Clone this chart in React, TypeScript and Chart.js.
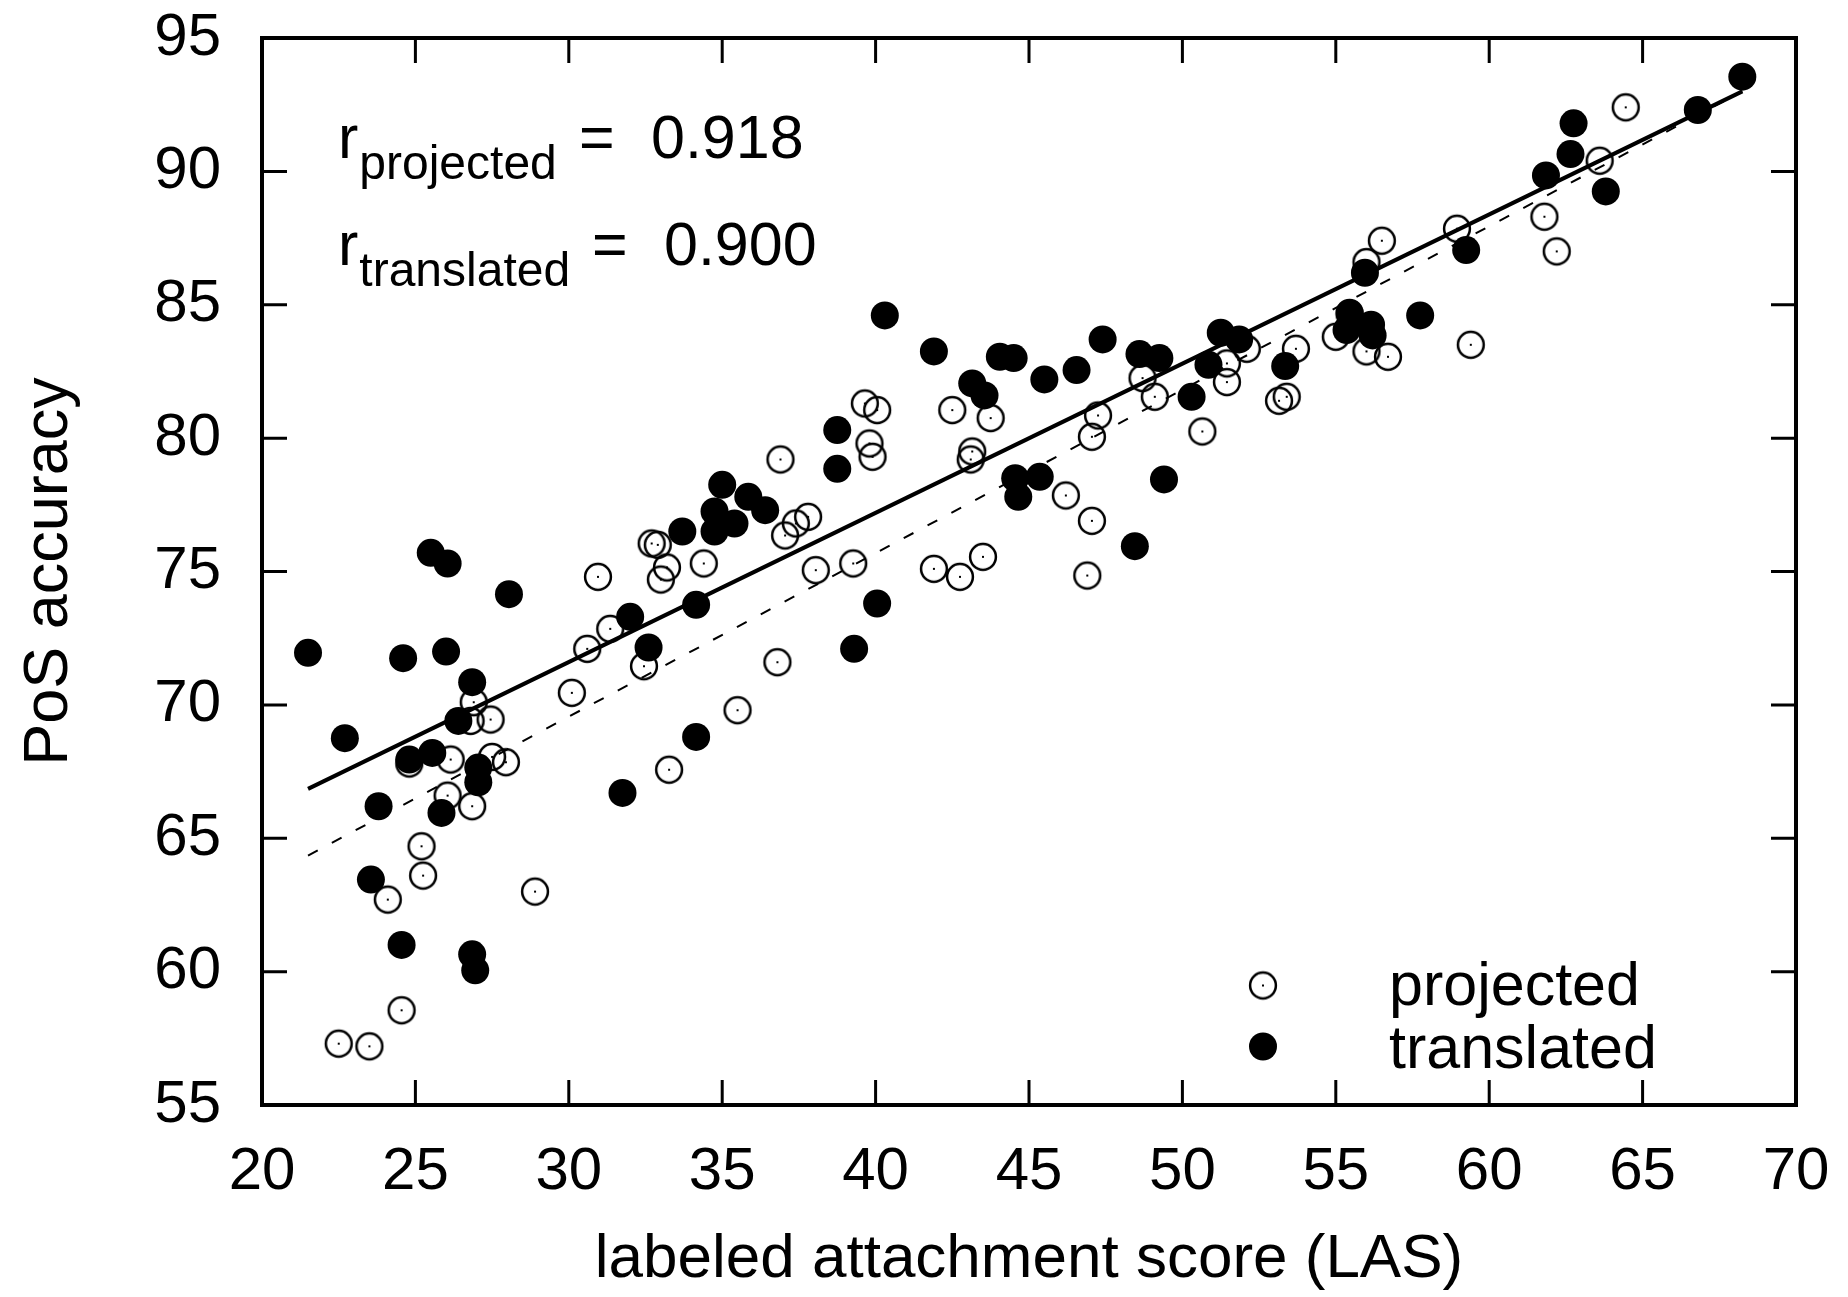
import React, { useEffect, useRef } from "react";
import { Chart, registerables } from "chart.js";
Chart.register(...registerables);

// ---- data ----
const projectedLAS = [22.5, 23.5, 24.1, 24.55, 24.8, 25.2, 25.25, 26.05, 26.15, 26.8, 26.9, 26.85, 27.45, 27.5, 27.95, 28.9, 30.1, 30.6, 30.95, 31.35, 32.45, 32.7, 32.9, 33.0, 33.2, 33.27, 34.4, 35.5, 36.9, 36.8, 37.05, 37.4, 37.8, 38.05, 39.27, 39.65, 39.8, 39.9, 40.05, 41.9, 42.5, 42.75, 43.15, 43.1, 43.5, 43.75, 46.2, 47.05, 46.9, 47.05, 47.25, 48.7, 49.1, 50.65, 51.45, 51.45, 52.1, 53.15, 53.4, 53.7, 55.0, 55.45, 56.0, 56.0, 56.5, 56.7, 58.95, 59.4, 61.8, 62.2, 63.6, 64.45];
const projectedPoS = [57.3, 57.2, 62.7, 58.55, 67.8, 64.7, 63.6, 66.6, 67.95, 69.4, 70.1, 66.2, 69.45, 68.05, 67.85, 63.0, 70.45, 72.1, 74.8, 72.85, 71.45, 76.05, 76.0, 74.7, 75.15, 67.57, 75.3, 69.8, 79.2, 71.6, 76.35, 76.8, 77.05, 75.05, 75.3, 81.3, 79.8, 79.3, 81.05, 75.1, 81.05, 74.8, 79.5, 79.2, 75.55, 80.75, 77.85, 76.9, 74.85, 80.05, 80.85, 82.25, 81.55, 80.25, 82.1, 82.8, 83.35, 81.4, 81.55, 83.35, 83.8, 84.65, 83.25, 86.6, 87.4, 83.05, 87.85, 83.5, 88.3, 87.0, 90.4, 92.4];

const translatedLAS = [21.5, 22.7, 23.55, 23.8, 24.55, 24.6, 24.8, 25.55, 25.5, 26.05, 26.0, 25.85, 26.4, 26.85, 27.05, 27.05, 26.85, 26.95, 28.05, 31.75, 32.0, 32.6, 33.7, 34.15, 34.15, 34.75, 34.75, 35.0, 35.4, 35.85, 36.4, 38.75, 38.75, 39.3, 40.05, 40.3, 41.9, 43.15, 43.55, 44.05, 44.5, 44.55, 44.65, 45.35, 45.5, 46.55, 47.4, 48.45, 48.6, 49.25, 49.4, 50.3, 50.85, 51.25, 51.85, 53.35, 55.35, 55.45, 56.15, 56.2, 55.95, 57.75, 59.25, 61.85, 62.65, 62.75, 63.8, 66.8, 68.25];
const translatedPoS = [71.95, 68.75, 63.45, 66.2, 61.0, 71.75, 67.95, 68.2, 75.7, 75.3, 72.0, 65.95, 69.4, 70.85, 67.65, 67.1, 60.65, 60.05, 74.15, 66.7, 73.3, 72.15, 76.5, 73.75, 68.8, 77.25, 76.5, 78.25, 76.8, 77.8, 77.3, 80.3, 78.85, 72.1, 73.8, 84.6, 83.25, 82.05, 81.6, 83.05, 83.0, 78.5, 77.8, 78.55, 82.2, 82.55, 83.7, 75.95, 83.15, 83.0, 78.45, 81.55, 82.75, 83.95, 83.7, 82.7, 84.05, 84.7, 84.25, 83.85, 86.2, 84.6, 87.05, 89.85, 90.65, 91.8, 89.25, 92.3, 93.55];

// regression line end points
const fitLAS = [21.5, 68.25];
const fitTranslatedPoS = [66.85, 93.0];
const fitProjectedPoS = [64.35, 93.0];

// axes
const xTicks = [20, 25, 30, 35, 40, 45, 50, 55, 60, 65, 70];
const yTicks = [55, 60, 65, 70, 75, 80, 85, 90, 95];

const xTitle = "labeled attachment score (LAS)";
const yTitle = "PoS accuracy";
const seriesNames = ["projected", "translated"];
const corrValues = ["0.918", "0.900"];

const FONT = '"Liberation Sans", Arial, Helvetica, sans-serif';

let openMarkerCanvas: HTMLCanvasElement | null = null;
function getOpenMarker(): HTMLCanvasElement {
  if (openMarkerCanvas) return openMarkerCanvas;
  const c = document.createElement("canvas");
  c.width = 32;
  c.height = 32;
  const g = c.getContext("2d")!;
  g.strokeStyle = "#000";
  g.lineWidth = 2.5;
  g.beginPath();
  g.arc(16, 16, 12.9, 0, Math.PI * 2);
  g.stroke();
  g.fillStyle = "#000";
  g.fillRect(15, 15, 2, 2);
  openMarkerCanvas = c;
  return c;
}

const decorPlugin = {
  id: "decor",
  afterDraw(chart: any) {
    const { ctx, chartArea } = chart;
    const { left, right, top, bottom } = chartArea;
    const xs = chart.scales.x;
    const ys = chart.scales.y;
    ctx.save();
    ctx.strokeStyle = "#000";
    ctx.lineCap = "butt";
    // inward ticks
    ctx.lineWidth = 3;
    const TL = 25;
    xTicks.forEach((v) => {
      const px = xs.getPixelForValue(v);
      if (px <= left + 2 || px >= right - 2) return;
      ctx.beginPath();
      ctx.moveTo(px, bottom);
      ctx.lineTo(px, bottom - TL);
      ctx.moveTo(px, top);
      ctx.lineTo(px, top + TL);
      ctx.stroke();
    });
    yTicks.forEach((v) => {
      const py = ys.getPixelForValue(v);
      if (py <= top + 2 || py >= bottom - 2) return;
      ctx.beginPath();
      ctx.moveTo(left, py);
      ctx.lineTo(left + TL, py);
      ctx.moveTo(right, py);
      ctx.lineTo(right - TL, py);
      ctx.stroke();
    });
    // frame
    ctx.lineWidth = 4;
    ctx.strokeRect(left, top, right - left, bottom - top);

    // correlation annotation
    ctx.fillStyle = "#000";
    ctx.textBaseline = "alphabetic";
    ctx.textAlign = "left";
    const ax = left + 76;
    const lines = [
      { sub: seriesNames[0], val: corrValues[0], base: top + 120, eq: left + 317, num: left + 389 },
      { sub: seriesNames[1], val: corrValues[1], base: top + 227, eq: left + 330, num: left + 402 },
    ];
    lines.forEach((l) => {
      ctx.font = `61px ${FONT}`;
      ctx.fillText("r", ax, l.base);
      const rw = ctx.measureText("r").width;
      ctx.font = `48px ${FONT}`;
      ctx.fillText(l.sub, ax + rw + 1, l.base + 21);
      ctx.font = `61px ${FONT}`;
      ctx.fillText("=", l.eq, l.base);
      ctx.fillText(l.val, l.num, l.base);
    });

    // legend
    const open = getOpenMarker();
    const mx = right - 533;
    const my1 = bottom - 119.5;
    const my2 = bottom - 58.5;
    ctx.drawImage(open, mx - 16, my1 - 16);
    ctx.beginPath();
    ctx.arc(mx, my2, 14, 0, Math.PI * 2);
    ctx.fill();
    ctx.font = `61px ${FONT}`;
    ctx.fillText(seriesNames[0], right - 407, bottom - 100.5);
    ctx.fillText(seriesNames[1], right - 407, bottom - 37.5);
    ctx.restore();
  },
};

export default function App() {
  const ref = useRef<HTMLCanvasElement | null>(null);
  useEffect(() => {
    if (!ref.current) return;
    const openMarker = getOpenMarker();
    const proj = projectedLAS.map((x, i) => ({ x, y: projectedPoS[i] }));
    const trans = translatedLAS.map((x, i) => ({ x, y: translatedPoS[i] }));
    const fitT = fitLAS.map((x, i) => ({ x, y: fitTranslatedPoS[i] }));
    const fitP = fitLAS.map((x, i) => ({ x, y: fitProjectedPoS[i] }));
    const chart: any = new Chart(ref.current, {
      type: "scatter",
      data: {
        datasets: [
          {
            label: "fit translated",
            data: fitT,
            showLine: true,
            borderColor: "#000",
            borderWidth: 4,
            pointRadius: 0,
            order: 0,
          },
          {
            label: "fit projected",
            data: fitP,
            showLine: true,
            borderColor: "#000",
            borderWidth: 2,
            borderDash: [11, 16],
            pointRadius: 0,
            order: 0,
          },
          {
            label: seriesNames[1],
            data: trans,
            pointStyle: "circle",
            pointRadius: 14,
            backgroundColor: "#000",
            borderWidth: 0,
            order: 1,
          },
          {
            label: seriesNames[0],
            data: proj,
            pointStyle: openMarker as any,
            pointRadius: 14,
            order: 2,
          },
        ],
      },
      options: {
        responsive: false,
        animation: false,
        devicePixelRatio: 1,
        events: [],
        layout: { padding: { left: 0, right: 52, top: 38, bottom: 0 } },
        plugins: { legend: { display: false }, tooltip: { enabled: false } },
        scales: {
          x: {
            type: "linear",
            min: 20,
            max: 70,
            afterBuildTicks: (s: any) => {
              s.ticks = xTicks.map((v) => ({ value: v }));
            },
            afterFit: (s: any) => {
              s.height = 192;
              s.paddingLeft = 0;
              s.paddingRight = 0;
            },
            grid: { display: false },
            border: { display: false },
            ticks: {
              color: "#000",
              font: { family: FONT, size: 60 },
              padding: 23,
              maxRotation: 0,
              autoSkip: false,
            },
            title: {
              display: true,
              text: xTitle,
              color: "#000",
              font: { family: FONT, size: 62 },
              padding: { top: 0, bottom: 0 },
            },
          },
          y: {
            type: "linear",
            min: 55,
            max: 95,
            afterBuildTicks: (s: any) => {
              s.ticks = yTicks.map((v) => ({ value: v }));
            },
            afterFit: (s: any) => {
              s.width = 262;
              s.paddingTop = 0;
              s.paddingBottom = 0;
            },
            grid: { display: false },
            border: { display: false },
            ticks: {
              color: "#000",
              font: { family: FONT, size: 60 },
              padding: 33,
              autoSkip: false,
            },
            title: {
              display: true,
              text: yTitle,
              color: "#000",
              font: { family: FONT, size: 63 },
              padding: { top: 12, bottom: 0 },
            },
          },
        },
      },
      plugins: [decorPlugin],
    } as any);
    return () => chart.destroy();
  }, []);

  return (
    <div style={{ position: "fixed", left: 0, top: 0, width: 1848, height: 1297, background: "#fff" }}>
      <canvas ref={ref} width={1848} height={1297} style={{ display: "block" }} />
    </div>
  );
}
